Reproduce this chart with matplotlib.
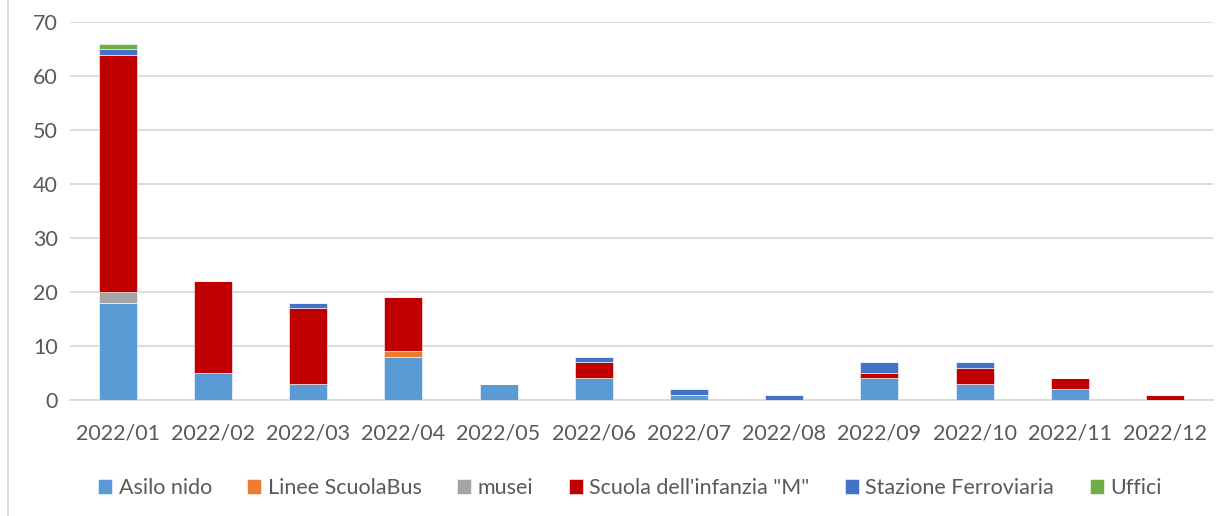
import numpy as np
import matplotlib.pyplot as plt
from matplotlib.lines import Line2D

plt.rcParams['font.family'] = ['Lato', 'DejaVu Sans']

months = ['2022/01', '2022/02', '2022/03', '2022/04', '2022/05', '2022/06',
          '2022/07', '2022/08', '2022/09', '2022/10', '2022/11', '2022/12']

asilo_nido = [18, 5, 3, 8, 3, 4, 1, 0, 4, 3, 2, 0]
linee_scuolabus = [0, 0, 0, 1, 0, 0, 0, 0, 0, 0, 0, 0]
musei = [2, 0, 0, 0, 0, 0, 0, 0, 0, 0, 0, 0]
scuola_infanzia = [44, 17, 14, 10, 0, 3, 0, 0, 1, 3, 2, 1]
stazione = [1, 0, 1, 0, 0, 1, 1, 1, 2, 1, 0, 0]
uffici = [1, 0, 0, 0, 0, 0, 0, 0, 0, 0, 0, 0]

series = [
    ('Asilo nido', asilo_nido, '#5B9BD5'),
    ('Linee ScuolaBus', linee_scuolabus, '#ED7D31'),
    ('musei', musei, '#A5A5A5'),
    ('Scuola dell\'infanzia "M"', scuola_infanzia, '#C00000'),
    ('Stazione Ferroviaria', stazione, '#4472C4'),
    ('Uffici', uffici, '#70AD47'),
]

fig = plt.figure(figsize=(12.31, 5.16), dpi=100)
ax = fig.add_axes([0.057, 0.2248, 0.928, 0.732])

x = np.arange(len(months))
bottom = np.zeros(len(months))
for name, vals, col in series:
    vals = np.array(vals, dtype=float)
    ax.bar(x, vals, 0.4, bottom=bottom, color=col, label=name,
           edgecolor='white', linewidth=0.4, zorder=3)
    bottom += vals

ax.set_xlim(-0.5, len(months) - 0.5)
ax.set_ylim(0, 70)
ax.set_yticks(range(0, 71, 10))
ax.set_xticks(x)
ax.set_xticklabels(months)
ax.grid(axis='y', color='#D9D9D9', linewidth=1.3, zorder=0)
for s in ['top', 'right', 'left']:
    ax.spines[s].set_visible(False)
ax.spines['bottom'].set_color('#D9D9D9')
ax.spines['bottom'].set_linewidth(1.3)
ax.tick_params(axis='both', length=0, labelsize=15.5, colors='#595959', pad=9)
ax.tick_params(axis='x', pad=17)

ax.legend(loc='upper center', bbox_to_anchor=(0.49, -0.155), ncol=6, frameon=False,
          fontsize=15.5, labelcolor='#595959', handlelength=0.65, handleheight=0.65,
          handletextpad=0.3, columnspacing=1.65)

fig.add_artist(Line2D([0.0065, 0.0065], [0, 1], color='#D9D9D9', linewidth=1.3,
                      transform=fig.transFigure))

fig.savefig('out.png', dpi=100)
